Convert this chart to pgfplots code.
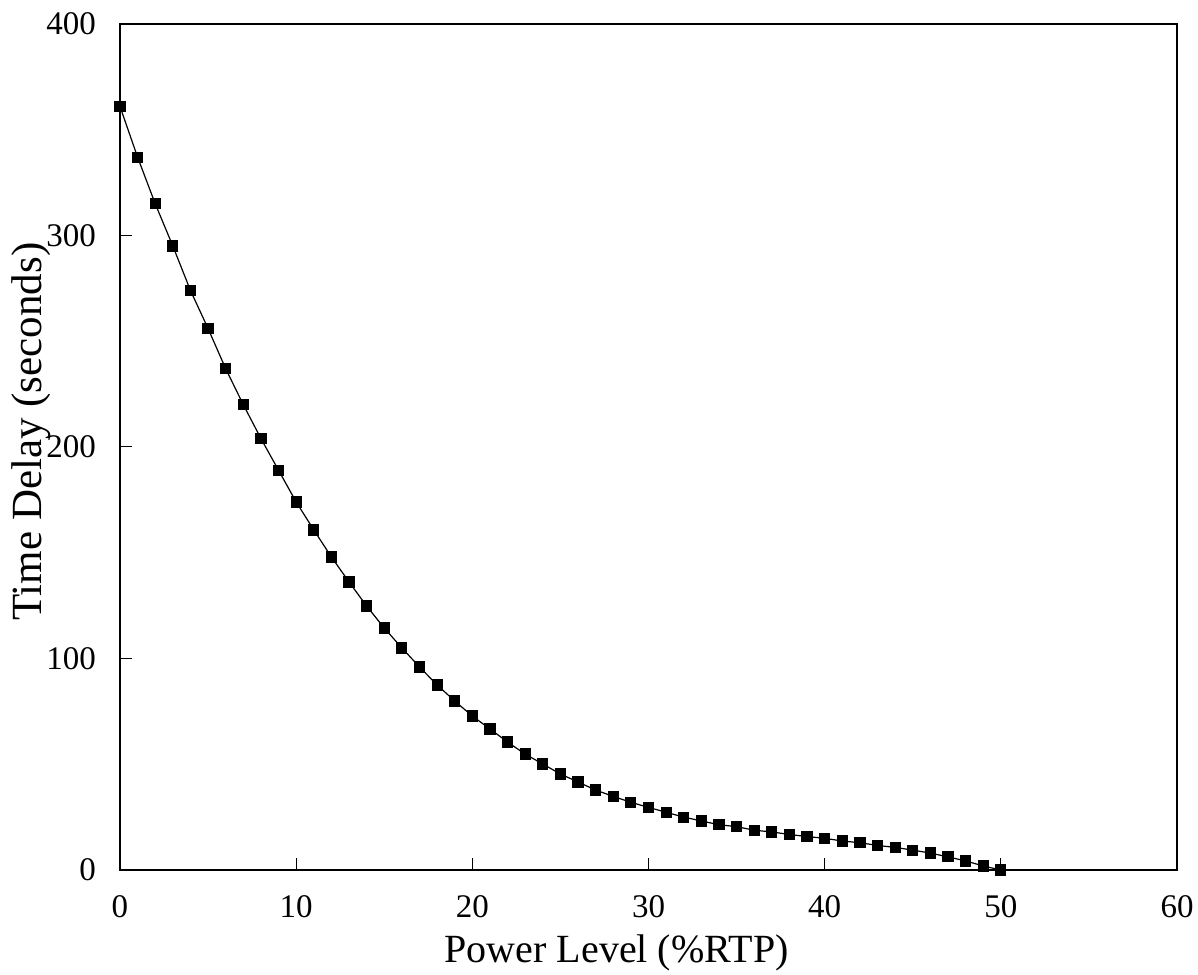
\documentclass[border=0pt]{standalone}
\usepackage{fontspec}
\setmainfont{Liberation Serif}
\usepackage{pgfplots}
\pgfplotsset{compat=1.18}
\begin{document}
\begin{tikzpicture}
\useasboundingbox (-60pt,-52pt) rectangle (539pt,435pt);
\begin{axis}[
  at={(0,0)}, anchor=south west,
  scale only axis,
  width=528.5pt, height=423pt,
  xmin=0, xmax=60, ymin=0, ymax=400,
  xtick={0,10,...,60}, ytick={0,100,...,400},
  tick align=inside,
  xtick pos=bottom, ytick pos=left,
  major tick length=6pt,
  tick style={black, line width=0.5pt},
  axis line style={black, line width=0.8pt},
  /pgf/number format/assume math mode=true,
  ticklabel style={font=\fontsize{16.5}{20}\selectfont},
  xticklabel style={yshift=-9pt},
  yticklabel style={xshift=-8.5pt},
  xlabel={Power Level (\%RTP)},
  ylabel={Time Delay (seconds)},
  xlabel style={font=\fontsize{20}{24}\selectfont, at={(ticklabel cs:0.47)}, anchor=north, yshift=-2pt},
  ylabel style={font=\fontsize{21.5}{26}\selectfont, at={(ticklabel cs:0.518)}, yshift=-9pt},
  clip=false,
]
\addplot[black, line width=0.6pt, mark=square*, mark size=2.5pt, mark options={fill=black}] coordinates {
(0,361) (1,337) (2,315) (3,295) (4,274) (5,256) (6,237) (7,220) (8,204) (9,189)
(10,174) (11,160.8) (12,148) (13,136.2) (14,124.8) (15,114.4) (16,105) (17,96) (18,87.5) (19,79.9)
(20,72.8) (21,66.7) (22,60.5) (23,54.8) (24,50.1) (25,45.4) (26,41.6) (27,37.8) (28,34.8) (29,32)
(30,29.6) (31,27.3) (32,25) (33,23.2) (34,21.4) (35,20.5) (36,18.8) (37,18) (38,16.8) (39,15.8)
(40,15) (41,13.7) (42,12.9) (43,11.6) (44,10.7) (45,9.4) (46,8) (47,6.2) (48,4.3) (49,1.9) (50,0)
};
\end{axis}
\end{tikzpicture}
\end{document}
